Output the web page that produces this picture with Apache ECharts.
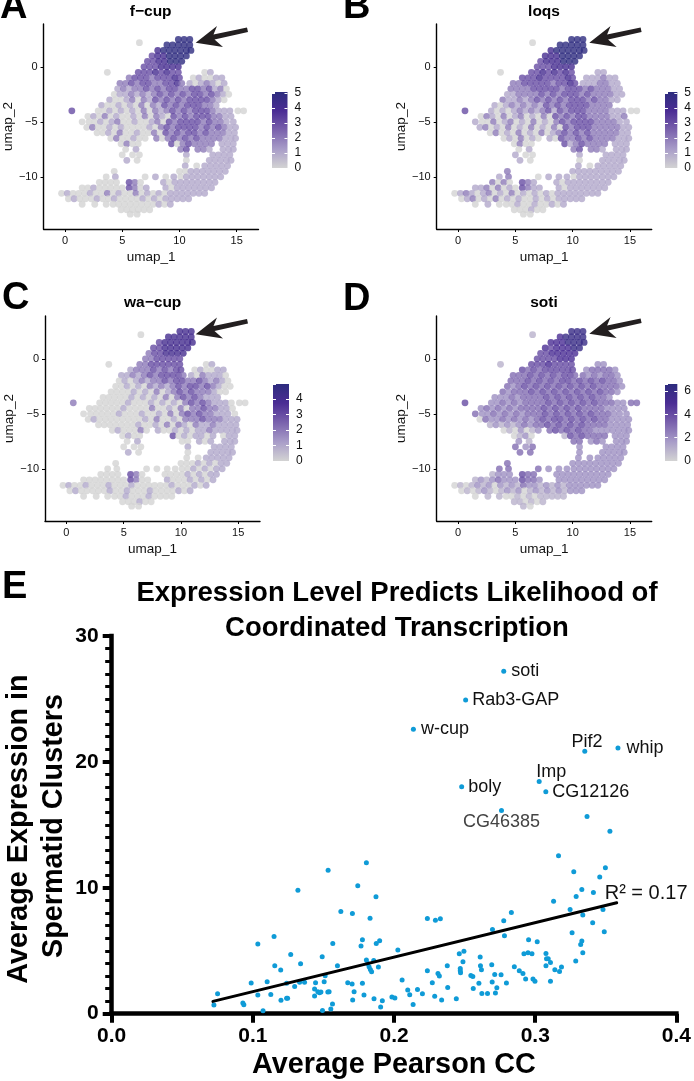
<!DOCTYPE html>
<html><head><meta charset="utf-8">
<style>html,body{margin:0;padding:0;background:#fff}#c{width:694px;height:1081px}</style>
<script src="https://cdn.jsdelivr.net/npm/echarts@6/dist/echarts.min.js"></script>
</head><body><div id="c"></div>
<script>
// ---------- UMAP panels: cell positions ----------
const umapY = [2.5,2,1.5,1,.5,0,-.5,-1,-1.5,-2,-2.5,-3,-3.5,-4,-4.5,-5,-5.5,-6,-6.5,-7,-7.5,-8,-8.5,-9,-9.5,-10,-10.5,-11,-11.5,-12,-12.5,-13,-13.4,2.2];
const umapX = [
[9.9,10.4,10.9],
[8.9,9.4,9.9,10.4,10.9],
[8.1,8.6,9.1,9.6,10.1,10.6,11.0],
[7.6,8.1,8.6,9.1,9.6,10.1,10.6],
[7.2,7.7,8.2,8.7,9.2,9.7,10.2],
[6.9,7.4,7.9,8.4,8.9,9.4,9.9],
[3.7,6.4,6.9,7.4,7.9,8.4,8.9,9.4,9.9,12.2,12.7],
[5.6,6.1,6.6,7.1,7.6,8.1,8.6,9.1,9.6,10.0,11.2,11.7,12.2,12.7,13.2,13.7],
[4.8,5.3,5.8,6.3,6.8,7.3,7.8,8.3,8.8,9.3,9.8,10.2,10.9,11.4,11.9,12.4,12.9,13.4,13.9],
[4.6,5.1,5.6,6.1,6.6,7.1,7.6,8.1,8.6,9.1,9.6,10.1,10.6,11.1,11.6,12.1,12.6,13.1,13.6,14.1],
[4.3,4.8,5.3,5.8,6.3,6.8,7.3,7.8,8.3,8.8,9.3,9.8,10.3,10.8,11.3,11.8,12.3,12.8,13.3,13.8,14.3],
[3.9,4.4,4.9,5.4,5.9,6.4,6.9,7.4,7.9,8.4,8.9,9.4,9.9,10.4,10.9,11.4,11.9,12.4,12.9,13.4,13.9],
[3.2,3.7,4.2,4.7,5.2,5.7,6.2,6.7,7.2,7.7,8.2,8.7,9.2,9.7,10.2,10.7,11.2,11.7,12.2,12.7,13.2],
[0.6,2.9,3.4,3.9,4.4,4.9,5.4,5.9,6.4,6.9,7.4,7.9,8.4,8.9,9.4,9.9,10.4,10.9,11.4,11.9,12.4,12.9,13.4,13.9,14.4,15.1,15.6],
[2.0,2.5,3.0,3.5,4.0,4.5,5.0,5.5,6.0,6.5,7.0,7.5,8.0,8.5,9.0,9.5,10.0,10.5,11.0,11.5,12.0,12.5,13.0,13.5,14.0,14.5],
[1.5,2.1,2.6,3.1,3.6,4.1,4.6,5.1,5.6,6.1,6.6,7.1,7.6,8.1,8.6,9.1,9.6,10.1,10.6,11.1,11.6,12.1,12.6,13.1,13.6,14.1,14.7],
[1.9,2.4,2.9,3.4,3.9,4.4,4.9,5.4,5.9,6.4,6.9,7.4,7.9,8.4,8.9,9.4,9.9,10.4,10.9,11.4,11.9,12.4,12.9,13.4,13.9,14.4,14.9],
[2.8,3.3,3.8,4.3,4.8,5.3,5.8,6.3,6.8,7.3,7.8,8.3,8.8,9.3,9.8,10.3,10.8,11.3,11.8,12.3,12.8,13.3,13.8,14.3,14.8],
[4.0,4.5,5.0,5.5,6.0,6.5,7.0,8.0,8.5,9.0,9.5,10.0,10.5,11.0,11.5,12.0,12.5,13.0,13.5,14.0,14.5,14.9],
[4.9,5.4,5.9,6.4,9.3,9.8,10.3,10.8,11.3,11.8,12.3,12.8,13.7,14.2,14.7],
[5.3,6.2,10.1,10.6,11.6,12.1,12.6,13.8,14.3,14.7],
[5.0,5.9,6.5,10.6,12.9,13.4,13.9,14.4],
[5.4,6.3,10.6,12.6,13.1,13.6,14.1,14.5],
[10.5,11.5,12.2,12.7,13.2,13.7,14.2],
[4.3,10.0,10.5,11.0,11.5,12.0,12.5,13.0,13.5,14.0],
[3.6,4.4,7.0,7.9,8.8,9.5,10.1,10.6,11.1,11.6,12.1,12.6,13.1,13.6],
[3.0,3.5,4.0,4.5,5.6,6.1,6.6,8.6,9.1,9.6,10.1,10.6,11.1,11.6,12.1,12.6,13.1],
[1.5,2.0,2.5,3.0,3.5,4.0,4.5,5.0,5.6,6.1,6.6,7.1,8.8,9.3,9.8,10.3,10.8,11.3,11.8,12.3,12.8],
[-.3,.2,.7,1.2,1.7,2.2,2.7,3.2,3.7,4.2,4.7,5.2,5.7,6.2,6.7,7.2,7.7,8.2,8.7,9.2,9.7,10.2,10.7,11.2,11.7,12.2],
[.3,.8,1.3,1.8,2.3,2.8,3.3,3.8,4.3,4.8,5.3,5.8,6.3,6.8,7.3,7.8,8.3,8.8,9.3,9.8,10.3,10.8],
[1.5,2.6,3.6,4.2,4.7,5.2,5.7,6.2,6.7,7.2,7.7,8.2,8.7,9.2],
[4.9,5.4,5.9,6.4,6.9,7.4],
[5.7,6.3],
[6.5]];
// expression level of each cell, one digit per cell, same rows as above
const fCup = ["555","55555","4555555","3445555","3344555","3334444","03334343301","2333233343010011","2232332233421012101","12122323233223323120","011212123232323323210","100120213232323333210","100101020213232333221","300101010202123232333211100","01020100102021032323332211","000101200100120323333232211","020010100001023233332323211","0010200100203232332322211","0200100202323232222111","020030232222111","0123221111","00011111","10011111","1011111","0001111111","01010101111111","00003201011111111","001000003201101111111","01000100201002010101111111","0100010010000101011111","00000000000101","000000","00","0"];
const loqs = ["555","55555","4555555","4445555","3444555","3334444","03343434311","3334333343111211","2233333233431112211","22223333323332322211","112222323233323222211","211212323232333232211","101212121323233332222","310101212123132333222211100","02102012010203232332222112","100201201020102323333222211","120102010201020323332222211","0201020102012323232222211","0102010103223232222111","020031232222111","0123221111","10011111","10011111","1011111","2111111111","12011101111111","20203211011111111","112020103211101111111","01210120102010101011111111","0120102010100101011111","01000100100101","000100","00","0"];
const waCup = ["444","44444","3444444","3344444","2334444","2233333","02233333301","1222323233010011","1121232333321021110","01012122323322321210","001010212123233232100","000010102012323222100","000001010102023232111","200000100010101023232111000","00000010000200102022322110","000000100010010202323221110","010000000010200102223222111","0000000100102021021121111","0100020100101011211111","010030101101011","0100101111","00011111","10011111","0011111","0000101011","00000000101011","00003200000101011","000000003200100010101","01001000100010000001000101","0100000100100010000101","00000100010000","000100","00","0"];
const soti = ["666","56666","5556666","5455566","4455555","4444555","14445444422","4343444444233332","3334343434433232332","33343434344343434332","323434343434343433332","323334343434343434332","222323333434343434332","422323233334343434343332233","23232323333434343433332222","322323232333434343434333222","032232323234344343434332222","1212123233434343433332222","0102012343434332222222","012014343333222","2133232222","32322222","33222222","2222222","3222222222","33322222222222","12224332222222222","121232224332222222222","01012120212132212121222222","0101210121201212121222","01100101011111","110101","10","1"];
const panelTitles = ["f\u2212cup","loqs","wa\u2212cup","soti"];
const colorMax = [5.05,5.05,4.98,6.6];
const colorStep = [1,1,1,2];
const umapTicksX = [0,5,10,15];
const umapTicksY = [0,-5,-10];

// ---------- Panel E ----------
const corrX = [.0724,.0750,.0929,.0936,.1072,.1035,.0988,.1035,.1101,.1127,.1199,.1239,.1246,.115,.1155,.1197,.1239,.1268,.1296,.1319,.1331,.1338,.1366,.1437,.1444,.1437,.1460,.1472,.1482,.1491,.1493,.1505,.1512,.1533,.1531,.1540,.1552,.1564,.1566,.1599,.1623,.1672,.1703,.1705,.1707,.1717,.1743,.1766,.1776,.1776,.1787,.1804,.1804,.1813,.1830,.1823,.1832,.1841,.1856,.1858,.1872,.1874,.1889,.1898,.1905,.1917,.1985,.2006,.2027,
.2057,.2097,.2111,.2135,.2166,.2201,.2236,.2236,.2271,.2288,.2293,.2311,.2321,.2328,.2337,.2377,.2380,.2441,.2462,.2469,.2469,.2471,.2488,.2495,.2544,.2558,.2561,.2601,.2610,.2612,.2619,.2622,.2662,.2692,.2697,.2695,.2713,.2718,.2728,.2758,.2777,.2782,.2796,.2831,.2852,.2887,.2913,.2920,.2932,.2949,.2953,.2977,.2984,.2998,.3014,.3076,.3076,.3080,.3092,.3108,.3108,.3130,.3139,.3165,.3172,.3186,.3247,.3261,.3273,.3287,.3290,.3322,.3330,.3330,.3337,.3337,.3407,.3412,.3457,.3480,.3489,.3497,.3529,.3367];
const corrY = [.69,1.59,.85,.71,.24,5.53,2.43,1.48,2.54,1.53,1.06,1.22,1.22,6.14,3.81,3.47,2.41,4.71,2.17,9.81,2.49,3.97,2.49,1.96,2.46,1.40,1.75,1.67,1.72,4.52,.26,2.54,3.02,11.40,1.72,1.75,.37,.77,5.58,3.81,8.12,2.46,2.35,7.96,1.08,1.75,10.16,5.37,5.87,2.41,1.48,11.98,4.26,3.99,7.59,3.73,3.52,3.33,4.23,1.19,9.29,5.58,3.70,5.79,.53,1.03,1.32,1.24,5.05,
2.67,1.88,1.51,.74,1.93,1.59,7.57,3.41,2.46,1.38,7.43,3.20,2.99,7.54,1.08,3.81,2.09,1.19,4.76,3.60,3.41,3.25,4.13,4.97,3.04,2.96,2.01,2.41,4.50,3.81,3.49,1.61,1.61,3.89,6.69,2.51,3.12,1.64,2.06,3.10,7.38,6.19,2.43,8.04,3.73,3.41,3.20,4.76,2.75,4.84,5.87,4.76,2.75,2.57,5.71,4.79,3.81,4.37,4.37,4.07,2.57,8.94,3.49,12.54,3.36,3.70,8.28,6.43,11.27,4.18,9.31,5.50,5.77,9.87,7.83,4.84,7.22,9.63,10.85,8.28,6.51,11.59,14.50,15.67];
const geneNames = ["soti","Rab3-GAP","w-cup","Pif2","whip","Imp","CG12126","boly","CG46385"];
const geneX = [.2777,.2507,.2137,.3351,.3586,.3028,.3075,.2479,.2761];
const geneY = [27.2,24.92,22.6,20.85,21.11,18.44,17.62,18.02,16.14];
const genePos = ["right","right","right",[4.8,-6.8],"right",[14.6,-7.1],"right","right","bottom"];
const geneGap = [5,4,5,0,6,0,4,4,0];
const fitX = [.0717,.3577];
const fitY = [.98,8.81];
const fitLabel = "R\u00B2 = 0.17";

const FONT = "Liberation Sans";
const colorRamp = ["#d3d3d3","#a89cc8","#7a62ad","#4b2d94","#2d2c7e"];
const panels = [
 {L:43.5,T:24},{L:436.7,T:24},{L:45,T:316},{L:436.7,T:316}];
const bars = [{L:272,T:92,W:15.5,H:76},{L:665,T:92,W:16,H:76},{L:273,T:384,W:16,H:77},{L:665,T:384,W:16,H:77}];
const grids=[],xAxes=[],yAxes=[],series=[],visualMaps=[],titles=[],graphics=[];
const minus = v => String(v).replace("-","\u2212");
[fCup,loqs,waCup,soti].forEach((lv,i)=>{
  const p=panels[i];
  grids.push({left:p.L,top:p.T,width:215,height:205});
  xAxes.push({gridIndex:i,type:"value",min:-1.87,max:16.9,
    axisLine:{onZero:false,lineStyle:{color:"#000",width:1.4}},axisTick:{length:3,lineStyle:{color:"#000"},customValues:umapTicksX},
    splitLine:{show:false},
    axisLabel:{color:"#111",fontFamily:FONT,fontSize:11,margin:6,customValues:umapTicksX},
    name:"umap_1",nameLocation:"middle",nameGap:21,nameTextStyle:{color:"#111",fontFamily:FONT,fontSize:13.5,verticalAlign:"top"}});
  yAxes.push({gridIndex:i,type:"value",min:-14.75,max:3.9,
    axisLine:{onZero:false,lineStyle:{color:"#000",width:1.4}},axisTick:{length:3,lineStyle:{color:"#000"},customValues:umapTicksY},
    splitLine:{show:false},
    axisLabel:{color:"#111",fontFamily:FONT,fontSize:11,margin:6,customValues:umapTicksY,formatter:minus},
    name:"umap_2",nameLocation:"middle",nameGap:25,nameRotate:90,nameTextStyle:{color:"#111",fontFamily:FONT,fontSize:13.5}});
  const data=[];
  umapX.forEach((xs,r)=>xs.forEach((x,k)=>{
    const d=(lv[r]||"")[k]; data.push([x,umapY[r],d===undefined?0:+d]);
  }));
  series.push({type:"scatter",xAxisIndex:i,yAxisIndex:i,data,symbolSize:6.8,silent:true,animation:false});
  visualMaps.push({show:false,seriesIndex:i,dimension:2,min:0,max:colorMax[i],inRange:{color:colorRamp}});
  titles.push({text:panelTitles[i],left:[150.7,544,152.7,544][i],top:[3.5,3.5,295,295][i],padding:0,textAlign:"center",
    textStyle:{color:"#000",fontFamily:FONT,fontWeight:"bold",fontSize:15.5}});
});
// Panel E, grid 4
grids.push({left:111.7,top:636,width:567,height:377.7});
xAxes.push({gridIndex:4,type:"value",min:0,max:.4,interval:.1,
  axisLine:{onZero:false,lineStyle:{color:"#000",width:4.5,cap:"square"}},axisTick:{length:9,lineStyle:{color:"#000",width:4}},splitLine:{show:false},
  axisLabel:{color:"#000",fontFamily:FONT,fontWeight:"bold",fontSize:21,margin:12,formatter:v=>v.toFixed(1)}});
yAxes.push({gridIndex:4,type:"value",min:0,max:30,interval:10,
  axisLine:{onZero:false,lineStyle:{color:"#000",width:4.5,cap:"square"}},axisTick:{length:9,lineStyle:{color:"#000",width:4}},
  minorTick:{show:true,splitNumber:10,length:6.5,lineStyle:{color:"#000",width:3}},splitLine:{show:false},minorSplitLine:{show:false},
  axisLabel:{color:"#000",fontFamily:FONT,fontWeight:"bold",fontSize:21,margin:13}});
series.push({type:"scatter",xAxisIndex:4,yAxisIndex:4,symbolSize:5,itemStyle:{color:"#0f9bd7",opacity:1},silent:true,animation:false,
  data:corrX.map((x,i)=>[x,corrY[i]])});
series.push({type:"scatter",xAxisIndex:4,yAxisIndex:4,symbolSize:5,itemStyle:{color:"#0f9bd7",opacity:1},silent:true,animation:false,
  labelLayout:{hideOverlap:false},
  data:geneNames.map((n,i)=>({value:[geneX[i],geneY[i]],name:n,
    label:Object.assign({show:true,position:genePos[i],distance:geneGap[i],formatter:n,color:n==="CG46385"?"#444":"#111",fontFamily:FONT,fontSize:18},
      Array.isArray(genePos[i])?{align:"center",verticalAlign:"middle"}:{})}))});
series.push({type:"line",xAxisIndex:4,yAxisIndex:4,showSymbol:false,symbol:"none",silent:true,animation:false,
  lineStyle:{color:"#000",width:3,cap:"round"},z:3,
  endLabel:{show:true,formatter:fitLabel,color:"#111",fontFamily:FONT,fontSize:20,position:"top",offset:[-20,-9]},
  data:fitX.map((x,i)=>[x,fitY[i]])});
titles.push({text:"Expression Level Predicts Likelihood of\nCoordinated Transcription",left:397,top:576,padding:0,textAlign:"center",
  textStyle:{color:"#000",fontFamily:FONT,fontWeight:"bold",fontSize:27.5,lineHeight:35}});
// colour bars, grids 5-8
colorMax.forEach((m,i)=>{
  const b=bars[i],g=5+i,tickW={show:true,inside:true,length:3,lineStyle:{color:"#fff",width:1}};
  grids.push({left:b.L,top:b.T,width:b.W,height:b.H});
  xAxes.push({gridIndex:g,type:"category",data:[""],show:false});
  const yi=yAxes.length;
  yAxes.push({gridIndex:g,type:"value",position:"right",min:0,max:m,interval:colorStep[i],z:6,
    axisLine:{show:false},axisTick:tickW,splitLine:{show:false},
    axisLabel:{color:"#111",fontFamily:FONT,fontSize:12,margin:7,showMaxLabel:false}});
  yAxes.push({gridIndex:g,type:"value",position:"left",min:0,max:m,interval:colorStep[i],z:6,
    axisLine:{show:false},axisTick:tickW,splitLine:{show:false},axisLabel:{show:false}});
  series.push({type:"bar",xAxisIndex:g,yAxisIndex:yi,barWidth:"100%",data:[m],silent:true,animation:false,
    itemStyle:{color:{type:"linear",x:0,y:1,x2:0,y2:0,colorStops:colorRamp.map((c,k)=>({offset:k/(colorRamp.length-1),color:c}))}}});
});
// panel letters and arrows (annotations)
[["A",0,27],["B",343,27],["C",2,318],["D",343,319],["E",2,607]].forEach(([t,x,y])=>{
  graphics.push({type:"text",x,y,z:10,style:{text:t,fill:"#000",font:"bold 38px '"+FONT+"'",textVerticalAlign:"bottom",textBaseline:"alphabetic"}});
});
[[0,0],[393.6,0],[0,291.5],[393.6,291]].forEach(([dx,dy])=>{
  graphics.push({type:"polygon",x:dx,y:dy,z:10,shape:{points:[[195.7,42.7],[217,26],[213.5,34.5],[247,27.5],[248,32],[214.5,39.5],[223,47]]},style:{fill:"#231f20"}});
});
graphics.push({type:"text",x:19,y:829,rotation:Math.PI/2,z:10,style:{text:"Average Expression in",fill:"#000",font:"bold 28.8px '"+FONT+"'",textAlign:"center",textVerticalAlign:"middle"}});
graphics.push({type:"text",x:54,y:826,rotation:Math.PI/2,z:10,style:{text:"Spermatid Clusters",fill:"#000",font:"bold 28.8px '"+FONT+"'",textAlign:"center",textVerticalAlign:"middle"}});
graphics.push({type:"text",x:394,y:1065,z:10,style:{text:"Average Pearson CC",fill:"#000",font:"bold 28.8px '"+FONT+"'",textAlign:"center",textVerticalAlign:"middle"}});

const chart=echarts.init(document.getElementById("c"),null,{renderer:"canvas"});
chart.setOption({animation:false,backgroundColor:"#fff",title:titles,grid:grids,xAxis:xAxes,yAxis:yAxes,visualMap:visualMaps,series,graphic:graphics});
</script></body></html>
